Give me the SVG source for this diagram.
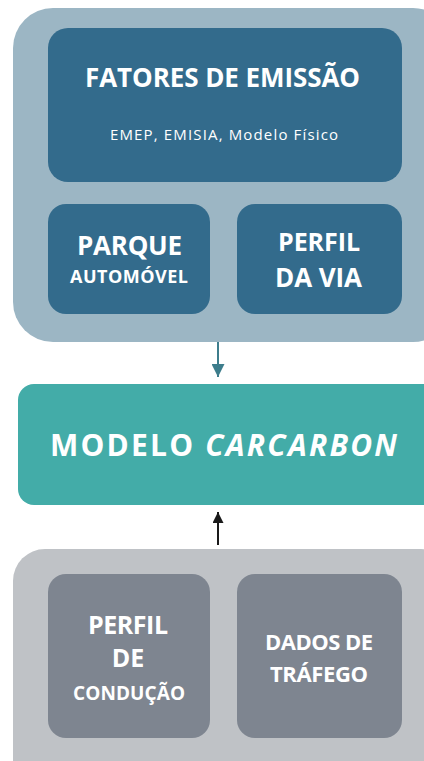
<svg xmlns="http://www.w3.org/2000/svg" width="424" height="761" viewBox="0 0 424 761">
<style>
text{font-family:"Open Sans","Liberation Sans",sans-serif;font-weight:700;fill:#ffffff;text-anchor:middle}
.sub{font-weight:400}
.blue{fill:#336b8c}
.grey{fill:#7e8590}
</style>
<defs>
<marker id="ah1" viewBox="0 0 10 10" refX="10" refY="5" markerWidth="13" markerHeight="13" markerUnits="userSpaceOnUse" orient="auto"><path d="M0,0 L10,5 L0,10 z" fill="#3d7d8c"/></marker>
<marker id="ah2" viewBox="0 0 10 10" refX="10" refY="5" markerWidth="11" markerHeight="11" markerUnits="userSpaceOnUse" orient="auto"><path d="M0,0 L10,5 L0,10 z" fill="#1a1a1a"/></marker>
</defs>
<g id="grupo-entradas">
<rect x="13" y="8" width="440" height="334" rx="40" fill="#9cb6c4"/>
</g>
<g id="fatores">
<rect class="blue" x="48" y="28" width="354" height="154" rx="20"/>
<text x="222.5" y="87" font-size="26" textLength="275" lengthAdjust="spacing">FATORES DE EMISSÃO</text>
<text class="sub" x="224" y="140" font-size="15" textLength="228" lengthAdjust="spacing">EMEP, EMISIA, Modelo Físico</text>
</g>
<g id="parque">
<rect class="blue" x="48" y="204" width="162" height="110" rx="18"/>
<text x="129.5" y="255" font-size="26" textLength="105" lengthAdjust="spacing">PARQUE</text>
<text x="129" y="283" font-size="18" textLength="118" lengthAdjust="spacing">AUTOMÓVEL</text>
</g>
<g id="perfil-via">
<rect class="blue" x="237" y="204" width="165" height="110" rx="18"/>
<text x="319" y="251" font-size="25" textLength="82" lengthAdjust="spacing">PERFIL</text>
<text x="318.5" y="287" font-size="26" textLength="87" lengthAdjust="spacing">DA VIA</text>
</g>
<g id="modelo">
<rect x="18" y="384" width="440" height="121" rx="16" fill="#43aca8"/>
<text x="223.5" y="456" font-size="30" textLength="347" lengthAdjust="spacing">MODELO <tspan font-style="italic">CARCARBON</tspan></text>
</g>
<g id="grupo-trafego">
<rect x="13" y="549" width="440" height="260" rx="32" fill="#bfc2c6"/>
</g>
<g id="perfil-conducao">
<rect class="grey" x="48" y="574" width="162" height="164" rx="18"/>
<text x="128" y="634" font-size="25" textLength="80" lengthAdjust="spacing">PERFIL</text>
<text x="128" y="667" font-size="25">DE</text>
<text x="129" y="700" font-size="19" textLength="112" lengthAdjust="spacing">CONDUÇÃO</text>
</g>
<g id="dados-trafego">
<rect class="grey" x="237" y="574" width="165" height="164" rx="18"/>
<text x="319" y="650" font-size="22" textLength="108" lengthAdjust="spacing">DADOS DE</text>
<text x="319" y="682" font-size="22" textLength="98" lengthAdjust="spacing">TRÁFEGO</text>
</g>
<g id="conectores">
<line x1="218" y1="342" x2="218" y2="377" stroke="#3d7d8c" stroke-width="2" marker-end="url(#ah1)"/>
<line x1="218" y1="545" x2="218" y2="512" stroke="#1a1a1a" stroke-width="2" marker-end="url(#ah2)"/>
</g>
</svg>
